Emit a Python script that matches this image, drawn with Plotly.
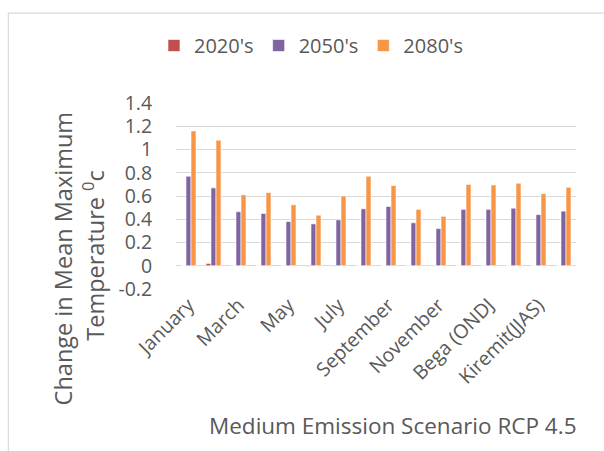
import plotly.graph_objects as go

# Categories: months, seasons and annual
categories = ["January", "February", "March", "April", "May", "June", "July",
              "August", "September", "October", "November", "December",
              "Bega (ONDJ", "Belg (FMAM)", "Kiremit(JJAS)", "Annual"]

# Change in mean maximum temperature (°C), medium emission scenario RCP 4.5
t2020s = [0.0, 0.02, 0.0, 0.0, 0.0, -0.004, -0.004, 0.0,
          0.0, 0.0, -0.003, 0.0, 0.0, 0.0, 0.0, 0.0]
t2050s = [0.77, 0.67, 0.465, 0.45, 0.38, 0.36, 0.395, 0.49,
          0.51, 0.37, 0.32, 0.485, 0.485, 0.495, 0.44, 0.47]
t2080s = [1.16, 1.08, 0.61, 0.63, 0.525, 0.435, 0.60, 0.77,
          0.69, 0.485, 0.425, 0.70, 0.695, 0.71, 0.62, 0.675]

series = [("2020's", t2020s, "#c0504d"),
          ("2050's", t2050s, "#8064a2"),
          ("2080's", t2080s, "#f79646")]

FONT = "Open Sans"
TXT = "#595959"
GRID = "#d9d9d9"

fig = go.Figure()
for name, vals, color in series:
    fig.add_trace(go.Bar(
        x=categories, y=vals, name=name,
        marker=dict(color=color, line=dict(color="white", width=0.6)),
    ))

# plot area in pixels: x 176..575.6, y 102.7..289.3
L, R, T, B = 176, 575.6, 102.7, 289.3
W, H = 604, 451
pw, ph = R - L, B - T


def px(x):
    return (x - L) / pw


def py(y):
    return (B - y) / ph


fig.update_layout(
    width=W, height=H,
    margin=dict(l=L, r=W - R, t=T, b=H - B, pad=0),
    paper_bgcolor="white", plot_bgcolor="white",
    font=dict(family=FONT, color=TXT, size=17),
    barmode="group", bargap=0.4, bargroupgap=0.0,
    showlegend=True,
    legend=dict(orientation="h", x=px(154), y=py(45), xanchor="left",
                yanchor="middle", font=dict(size=20, color=TXT),
                itemwidth=30, tracegroupgap=0, bgcolor="rgba(0,0,0,0)"),
    xaxis=dict(
        type="category", tickmode="array",
        tickvals=categories[::2], ticktext=categories[::2],
        tickangle=-45, showgrid=False, showline=False, zeroline=False,
        ticks="", tickfont=dict(size=19.5, color=TXT),
    ),
    yaxis=dict(
        range=[-0.2, 1.4], tickvals=[-0.2, 0, 0.2, 0.4, 0.6, 0.8, 1.0, 1.2, 1.4],
        ticktext=["-0.2", "0", "0.2", "0.4", "0.6", "0.8", "1", "1.2", "1.4"],
        showgrid=True, gridcolor=GRID, gridwidth=1.3,
        zeroline=True, zerolinecolor=GRID, zerolinewidth=1.3,
        showline=False, ticks="outside", ticklen=0, ticklabelstandoff=19,
        tickfont=dict(size=19.5, color=TXT),
    ),
    annotations=[
        dict(text="Change in Mean Maximum", x=px(62.7), y=py(259),
             xref="paper", yref="paper", showarrow=False, textangle=-90,
             xanchor="center", yanchor="middle",
             font=dict(size=23.5, color=TXT)),
        dict(text="Temperature <sup>0</sup>c", x=px(94), y=py(255),
             xref="paper", yref="paper", showarrow=False, textangle=-90,
             xanchor="center", yanchor="middle",
             font=dict(size=23.5, color=TXT)),
        dict(text="Medium Emission Scenario RCP 4.5", x=px(392.5), y=py(426),
             xref="paper", yref="paper", showarrow=False,
             xanchor="center", yanchor="middle",
             font=dict(size=22.5, color=TXT)),
    ],
    shapes=[
        # chart frame (top and left edges)
        dict(type="line", xref="paper", yref="paper",
             x0=px(8.5), x1=px(610), y0=py(12.5), y1=py(12.5),
             line=dict(color=GRID, width=1.2)),
        dict(type="line", xref="paper", yref="paper",
             x0=px(8.5), x1=px(8.5), y0=py(12.5), y1=py(460),
             line=dict(color=GRID, width=1.2)),
    ],
)

fig.write_html("out.html")
